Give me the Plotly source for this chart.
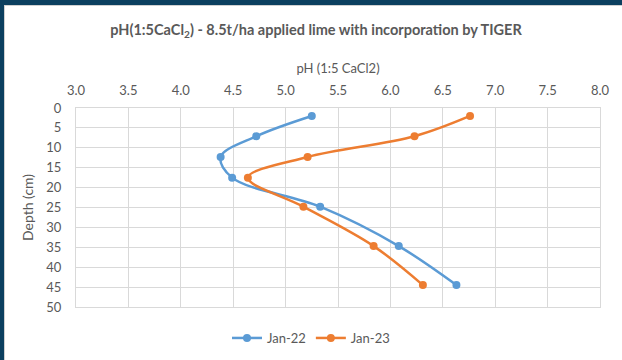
import plotly.graph_objects as go

depth = [2.0, 7.1, 12.3, 17.5, 24.8, 34.7, 44.5]
ph_jan22 = [5.25, 4.72, 4.38, 4.49, 5.33, 6.08, 6.63]
ph_jan23 = [6.76, 6.23, 5.21, 4.64, 5.17, 5.84, 6.31]
series_names = ["Jan-22", "Jan-23"]
x_ticks = [3.0, 3.5, 4.0, 4.5, 5.0, 5.5, 6.0, 6.5, 7.0, 7.5, 8.0]
y_ticks = [0, 5, 10, 15, 20, 25, 30, 35, 40, 45, 50]

FONT = "Lato"
TXT = "#595959"
GRID = "#D9D9D9"

fig = go.Figure()
for name, vals, col in [(series_names[0], ph_jan22, "#5B9BD5"), (series_names[1], ph_jan23, "#ED7D31")]:
    fig.add_trace(go.Scatter(
        x=vals, y=depth, name=name, mode="lines+markers",
        line=dict(color=col, width=2.5, shape="spline", smoothing=1.0),
        marker=dict(color=col, size=8),
    ))

L, R, T, B = 76, 22, 108, 53
W, H = 622, 360
pw = W - L - R
ph = H - T - B

def px2x(px):
    return (px - L) / pw

def py2y(py):
    return (H - B - py) / ph

fig.update_layout(
    width=W, height=H,
    margin=dict(l=L, r=R, t=T, b=B, autoexpand=False),
    paper_bgcolor="white", plot_bgcolor="white",
    font=dict(family=FONT, color=TXT, size=13),
    title=dict(
        text="<b>pH(1:5CaCl<sub>2</sub>) - 8.5t/ha applied lime with incorporation by TIGER</b>",
        x=316 / W, xref="container", xanchor="center", y=1 - 30 / H, yanchor="middle",
        font=dict(family=FONT, size=14.5, color=TXT),
    ),
    xaxis=dict(
        side="top", range=[3, 8], tickvals=x_ticks, tickformat=".1f",
        showgrid=True, gridcolor=GRID, gridwidth=1,
        showline=True, linecolor=GRID, linewidth=1, mirror=True,
        zeroline=False, ticks="", ticklabelstandoff=7,
        tickfont=dict(size=13, color=TXT),
        title=dict(text="pH (1:5 CaCl2)", font=dict(size=13, color=TXT), standoff=5),
    ),
    yaxis=dict(
        range=[50, 0], tickvals=y_ticks,
        showgrid=True, gridcolor=GRID, gridwidth=1,
        showline=True, linecolor=GRID, linewidth=1, mirror=True,
        zeroline=False, ticks="", ticklabelstandoff=11,
        tickfont=dict(size=13, color=TXT),
        title=dict(text="Depth (cm)", font=dict(size=14, color=TXT), standoff=9),
    ),
    legend=dict(
        orientation="h", x=0.5, xanchor="center",
        xref="container", yref="container", y=(H - 338) / H, yanchor="middle",
        font=dict(size=13, color=TXT), itemwidth=30, tracegroupgap=0,
    ),
    showlegend=True,
)

# outer frame: dark navy strips on top and left, light grey edge
fig.add_shape(type="rect", xref="paper", yref="paper",
              x0=px2x(0), x1=px2x(4), y0=py2y(H), y1=py2y(0),
              fillcolor="#0B3F5F", line=dict(width=0), layer="above")
fig.add_shape(type="rect", xref="paper", yref="paper",
              x0=px2x(0), x1=px2x(W), y0=py2y(5), y1=py2y(0),
              fillcolor="#0B3F5F", line=dict(width=0), layer="above")
fig.add_shape(type="line", xref="paper", yref="paper",
              x0=px2x(4), x1=px2x(W), y0=py2y(5.5), y1=py2y(5.5),
              line=dict(color="#D0D0D0", width=1), layer="above")
fig.add_shape(type="line", xref="paper", yref="paper",
              x0=px2x(4.5), x1=px2x(4.5), y0=py2y(H), y1=py2y(5),
              line=dict(color="#D0D0D0", width=1), layer="above")

fig.write_html("out.html")
